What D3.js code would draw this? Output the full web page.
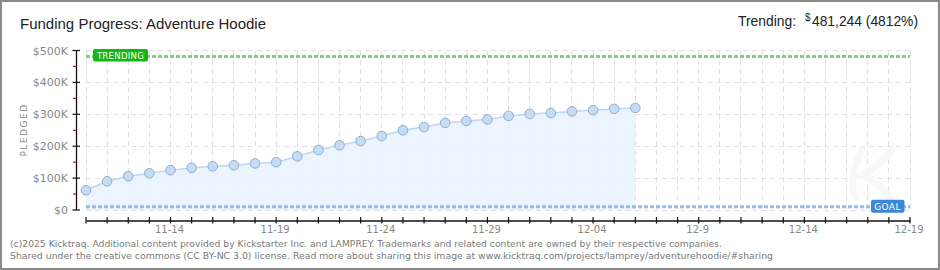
<!DOCTYPE html>
<html><head><meta charset="utf-8">
<script src="https://cdn.jsdelivr.net/npm/d3@7"></script>
<style>
html,body{margin:0;padding:0;background:#fff;}
svg{display:block;}
</style></head>
<body>
<svg id="chart" width="940" height="270"></svg>
<script>
const dates = ["11-10","11-11","11-12","11-13","11-14","11-15","11-16","11-17","11-18","11-19","11-20","11-21","11-22","11-23","11-24","11-25","11-26","11-27","11-28","11-29","11-30","12-01","12-02","12-03","12-04","12-05","12-06"];
const pledged = [62000,90000,106000,115000,125000,132000,137000,140000,146000,150000,168000,188000,203000,216000,232000,250000,260000,273000,279000,284000,295000,301000,304000,309000,313000,317000,320000];
const xTickLabels = ["11-14","11-19","11-24","11-29","12-04","12-9","12-14","12-19"];
const xTickLabelDays = [4,9,14,19,24,29,34,39];
const yTickValues = [0,100000,200000,300000,400000,500000];
const yTickLabels = ["$0","$100K","$200K","$300K","$400K","$500K"];
const goal = 10000;
const trending = 481244;
const totalDays = 39;

const svg = d3.select("#chart");
const W = 940, H = 270;
const font = "'DejaVu Sans', sans-serif";
const tfont = "'Liberation Sans', Arial, sans-serif";

// border
svg.append("rect").attr("x",1).attr("y",1).attr("width",W-2).attr("height",H-2)
  .attr("fill","#fff").attr("stroke","#8a8a8a").attr("stroke-width",2);

const x = d3.scaleLinear().domain([0,totalDays]).range([86,910]);
const y = d3.scaleLinear().domain([0,500000]).range([210,50.5]);

// grid
const g = svg.append("g");
g.selectAll("line.vg").data(d3.range(0,totalDays+1)).join("line")
  .attr("x1",d=>x(d)).attr("x2",d=>x(d)).attr("y1",y(500000)).attr("y2",212)
  .attr("stroke","#e0e0e0").attr("stroke-dasharray","5,4").attr("shape-rendering","crispEdges");
g.selectAll("line.hg").data(yTickValues).join("line")
  .attr("x1",x(0)).attr("x2",x(totalDays)).attr("y1",d=>y(d)).attr("y2",d=>y(d))
  .attr("stroke","#e0e0e0").attr("stroke-dasharray","5,4").attr("shape-rendering","crispEdges");

// faint watermark shape
svg.append("path")
  .attr("d","M862,150 C852,170 850,190 856,198 M892,150 C880,165 868,172 862,176 C875,178 882,188 890,198")
  .attr("fill","none").attr("stroke","#f8f8f8").attr("stroke-width",7).attr("stroke-linecap","round");

// area + line
const pts = pledged.map((v,i)=>[i,v]);
svg.append("path").datum(pts)
  .attr("d", d3.area().x(d=>x(d[0])).y0(y(0)).y1(d=>y(d[1])))
  .attr("fill","#eaf3fd").attr("opacity",0.9);
svg.append("path").datum(pts)
  .attr("d", d3.line().x(d=>x(d[0])).y(d=>y(d[1])))
  .attr("fill","none").attr("stroke","#bcd7f2").attr("stroke-width",1.5);

// goal line
svg.append("line").attr("x1",x(0)).attr("x2",x(totalDays)).attr("y1",y(goal)).attr("y2",y(goal))
  .attr("stroke","#95bde8").attr("stroke-width",3).attr("stroke-dasharray","4,2");
// trending line
svg.append("line").attr("x1",x(0)).attr("x2",x(totalDays)).attr("y1",y(trending)).attr("y2",y(trending))
  .attr("stroke","#7fd07f").attr("stroke-width",3).attr("stroke-dasharray","4,2");

// points
svg.selectAll("circle.pt").data(pts).join("circle")
  .attr("cx",d=>x(d[0])).attr("cy",d=>y(d[1])).attr("r",4.8)
  .attr("fill","#c4dcf6").attr("stroke","#93acc9").attr("stroke-width",1);

// labels
const tl = svg.append("g");
tl.append("rect").attr("x",93).attr("y",y(trending)-7.5).attr("width",55).attr("height",12.5).attr("rx",2)
  .attr("fill","#13b613");
tl.append("text").attr("x",120.5).attr("y",y(trending)+2.8).attr("text-anchor","middle")
  .attr("font-family",font).attr("font-size",8.5).attr("fill","#fff").attr("letter-spacing",0.3).text("TRENDING");
const gl = svg.append("g");
gl.append("rect").attr("x",871).attr("y",y(goal)-7).attr("width",33.5).attr("height",13).attr("rx",2)
  .attr("fill","#3b88d8");
gl.append("text").attr("x",887.5).attr("y",y(goal)+3.3).attr("text-anchor","middle")
  .attr("font-family",font).attr("font-size",9).attr("fill","#fff").attr("letter-spacing",0.4).text("GOAL");

// y axis
svg.append("line").attr("x1",76.5).attr("x2",76.5).attr("y1",y(500000)).attr("y2",y(0))
  .attr("stroke","#111").attr("stroke-width",1.3);
svg.selectAll("line.ymaj").data(yTickValues).join("line")
  .attr("x1",72.5).attr("x2",80).attr("y1",d=>y(d)).attr("y2",d=>y(d))
  .attr("stroke","#111").attr("stroke-width",1.2);
svg.selectAll("line.ymin").data(d3.range(50000,500000,100000)).join("line")
  .attr("x1",73).attr("x2",76).attr("y1",d=>y(d)).attr("y2",d=>y(d))
  .attr("stroke","#e00").attr("stroke-width",1.2);
svg.selectAll("text.yl").data(yTickValues).join("text")
  .attr("x",68).attr("y",d=>y(d)+4).attr("text-anchor","end")
  .attr("font-family",font).attr("font-size",11).attr("fill","#888").text((d,i)=>yTickLabels[i]);
svg.append("text").attr("transform","translate(27,130) rotate(-90)").attr("text-anchor","middle")
  .attr("font-family",font).attr("font-size",9).attr("fill","#888").attr("letter-spacing",1.5).text("PLEDGED");

// x axis
const xAxis = d3.axisBottom(x).tickValues(d3.range(0,totalDays+1)).tickSize(0).tickFormat("");
const xa = svg.append("g").attr("transform","translate(0,220.5)").call(xAxis);
xa.select(".domain").attr("stroke","#111").attr("stroke-width",1.3);
svg.selectAll("line.xt").data(d3.range(0,totalDays+1)).join("line")
  .attr("x1",d=>x(d)).attr("x2",d=>x(d)).attr("y1",217).attr("y2",223.5)
  .attr("stroke","#111").attr("stroke-width",1.2);
svg.selectAll("text.xl").data(xTickLabelDays).join("text")
  .attr("x",d=>x(d)-1).attr("y",232.5).attr("text-anchor","middle")
  .attr("font-family",font).attr("font-size",10).attr("fill","#888").text((d,i)=>xTickLabels[i]);

// title
svg.append("text").attr("x",20).attr("y",29).attr("font-family",tfont).attr("font-size",15.5)
  .attr("fill","#222").attr("textLength",246).attr("lengthAdjust","spacingAndGlyphs")
  .text("Funding Progress: Adventure Hoodie");
svg.append("text").attr("x",738).attr("y",26).attr("font-family",tfont).attr("font-size",15.5)
  .attr("fill","#222").attr("textLength",58).attr("lengthAdjust","spacingAndGlyphs").text("Trending:");
svg.append("text").attr("x",805).attr("y",21).attr("font-family",tfont).attr("font-size",10)
  .attr("fill","#222").text("$");
svg.append("text").attr("x",812).attr("y",26).attr("font-family",tfont).attr("font-size",15.5)
  .attr("fill","#222").attr("textLength",106).attr("lengthAdjust","spacingAndGlyphs").text("481,244 (4812%)");

// footer
const foot = svg.append("g").attr("font-family",font).attr("font-size",9.2).attr("fill","#7a7a7a");
foot.append("text").attr("x",10).attr("y",246.5).attr("textLength",712).attr("lengthAdjust","spacingAndGlyphs")
  .text("(c)2025 Kicktraq. Additional content provided by Kickstarter Inc. and LAMPREY. Trademarks and related content are owned by their respective companies.");
foot.append("text").attr("x",10).attr("y",258.5).attr("textLength",763).attr("lengthAdjust","spacingAndGlyphs")
  .text("Shared under the creative commons (CC BY-NC 3.0) license. Read more about sharing this image at www.kicktraq.com/projects/lamprey/adventurehoodie/#sharing");
</script>
</body></html>
